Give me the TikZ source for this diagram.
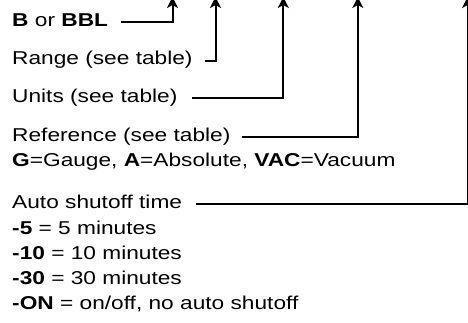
\documentclass[tikz,border=0pt]{standalone}
\usepackage{fontspec}
\setmainfont{Liberation Sans}[FakeStretch=1.22]
\usetikzlibrary{arrows.meta}
\begin{document}
\begin{tikzpicture}[x=1pt,y=-1pt,
 lbl/.style={anchor=base west,inner sep=0pt,font=\fontsize{18.6}{22}\selectfont},
 conn/.style={line width=2pt,-{Stealth[length=11pt,width=11pt,inset=3pt]}}]
\path[use as bounding box] (0,0) rectangle (468,323);
\node[lbl] (tB) at (12,26.5) {\textbf{B} or \textbf{BBL}};
\node[lbl] (tR) at (12,65) {Range (see table)};
\node[lbl] (tU) at (12,102.5) {Units (see table)};
\node[lbl] (tRef) at (12,141.5) {Reference (see table)};
\node[lbl] (tG) at (12,166.5) {\textbf{G}=Gauge, \textbf{A}=Absolute, \textbf{VAC}=Vacuum};
\node[lbl] (tA) at (12,208.5) {Auto shutoff time};
\node[lbl] (t5) at (12,234.5) {\textbf{-5} = 5 minutes};
\node[lbl] (t10) at (12,259.5) {\textbf{-10} = 10 minutes};
\node[lbl] (t30) at (12,284.5) {\textbf{-30} = 30 minutes};
\node[lbl] (tON) at (12,309.5) {\textbf{-ON} = on/off, no auto shutoff};
\coordinate (s1) at (121,22);   \coordinate (e1) at (172.5,-3);
\coordinate (s2) at (205,61);   \coordinate (e2) at (215.5,-3);
\coordinate (s3) at (192,98.5); \coordinate (e3) at (283.3,-3);
\coordinate (s4) at (242,136.8);\coordinate (e4) at (357.8,-3);
\coordinate (s5) at (196,203.5);\coordinate (e5) at (467.6,-3);
\draw[conn] (s1) -| (e1);
\draw[conn] (s2) -| (e2);
\draw[conn] (s3) -| (e3);
\draw[conn] (s4) -| (e4);
\draw[conn] (s5) -| (e5);
\end{tikzpicture}
\end{document}
